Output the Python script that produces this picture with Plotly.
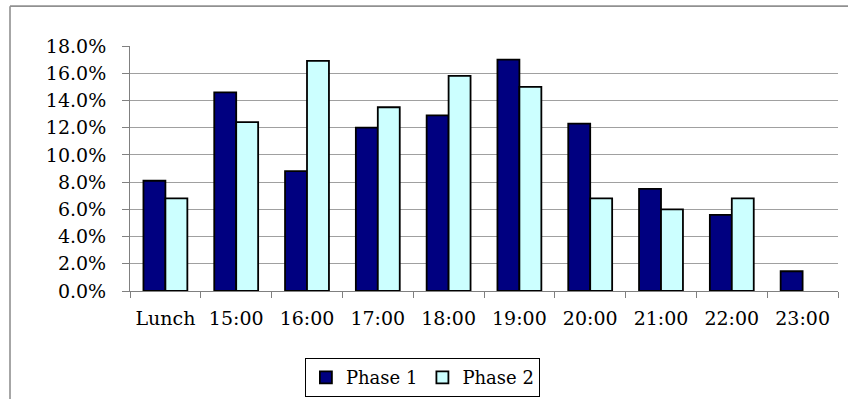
import plotly.graph_objects as go

categories = ["Lunch", "15:00", "16:00", "17:00", "18:00", "19:00", "20:00", "21:00", "22:00", "23:00"]
phase1 = [8.1, 14.6, 8.8, 12.0, 12.9, 17.0, 12.3, 7.5, 5.6, 1.45]
phase2 = [6.8, 12.4, 16.9, 13.5, 15.8, 15.0, 6.8, 6.0, 6.8, None]
y_ticks = [0, 2, 4, 6, 8, 10, 12, 14, 16, 18]
y_tick_labels = [f"{v:.1f}%" for v in y_ticks]

FONT = "DejaVu Serif, Liberation Serif, serif"

fig = go.Figure()
fig.add_trace(go.Bar(x=categories, y=phase1, name="Phase 1",
                     marker=dict(color="#000080", line=dict(color="black", width=1.8))))
fig.add_trace(go.Bar(x=categories, y=phase2, name="Phase 2",
                     marker=dict(color="#CCFFFF", line=dict(color="black", width=1.8))))

W, H = 858, 409
L, R, T, B = 130, 20, 46, 111
pw, ph = W - L - R, H - T - B

def px(x):
    return (x - L) / pw

def py(y):
    return (H - B - y) / ph

fig.update_layout(
    width=W, height=H,
    margin=dict(l=L, r=R, t=T, b=B, pad=0),
    paper_bgcolor="white", plot_bgcolor="white",
    barmode="group", bargap=0.38, bargroupgap=0,
    font=dict(family=FONT, size=19, color="black"),
    showlegend=True,
    legend=dict(orientation="h", x=0.413, xanchor="center", y=py(367), yanchor="top",
                bordercolor="black", borderwidth=1, font=dict(size=18, family=FONT),
                itemwidth=30, traceorder="normal"),
    xaxis=dict(type="category", showline=True, linecolor="#808080", linewidth=1,
               ticks="outside", ticklen=6, tickcolor="#808080", tickson="boundaries",
               showgrid=False, tickfont=dict(size=19, family=FONT), ticklabelstandoff=10,
               range=[-0.5, 9.5]),
    yaxis=dict(range=[0, 18], tickvals=y_ticks, ticktext=y_tick_labels,
               showline=True, linecolor="#808080", linewidth=1,
               ticks="outside", ticklen=7, tickcolor="#808080",
               showgrid=True, gridcolor="#A0A0A0", gridwidth=1, zeroline=False,
               tickfont=dict(size=19, family=FONT), ticklabelstandoff=12),
    shapes=[
        dict(type="line", xref="paper", yref="paper", x0=px(10), x1=px(848), y0=py(5), y1=py(5),
             line=dict(color="#909090", width=1.6)),
        dict(type="line", xref="paper", yref="paper", x0=px(10), x1=px(10), y0=py(5), y1=py(409),
             line=dict(color="#909090", width=1.6)),
    ],
)

fig.write_html(
    "out.html",
    config={"displayModeBar": False},
    post_script="document.body.style.margin='0';document.documentElement.style.overflow='hidden';window.scrollTo(0,0);",
)
